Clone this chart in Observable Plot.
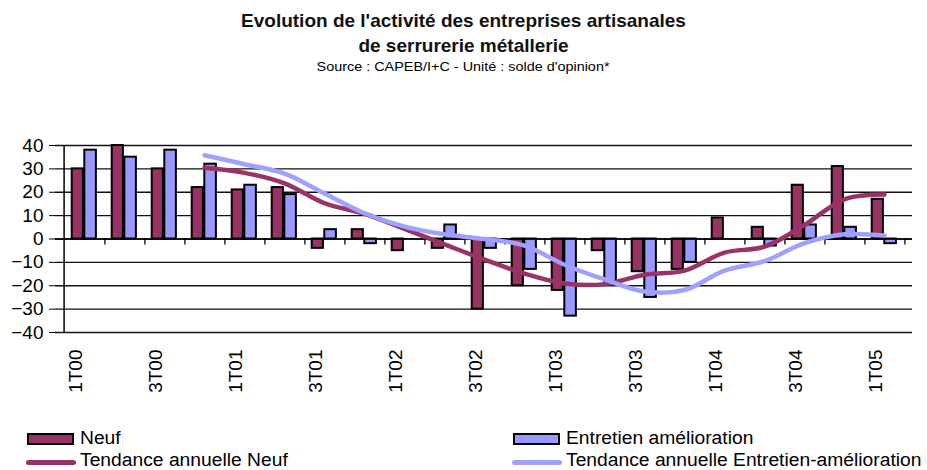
<!DOCTYPE html>
<html>
<head>
<meta charset="utf-8">
<script src="https://cdn.jsdelivr.net/npm/d3@7"></script>
<script src="https://cdn.jsdelivr.net/npm/@observablehq/plot@0.6"></script>
<style>
  html, body { margin: 0; padding: 0; background: #fff; }
  #wrap { position: relative; width: 927px; height: 470px; font-family: "Liberation Sans", Arial, sans-serif; color: #000; overflow: hidden; }
  .t1, .t2 { position: absolute; left: 0; width: 927px; text-align: center; font-weight: bold; font-size: 19px; color: #111; }
  .src { position: absolute; left: 0; width: 927px; text-align: center; font-size: 12px; }
  .src span { display: inline-block; transform: scaleX(1.2); }
  .leg { position: absolute; font-size: 18px; white-space: nowrap; height: 20px; }
  .leg .tx { position: absolute; top: 0; transform: scaleX(1.07); transform-origin: left center; }
  .sw { position: absolute; top: 5px; width: 43px; height: 8px; border: 2px solid #000; }
  .ln { position: absolute; top: 10px; width: 50px; height: 5px; border-radius: 3px; }
  #chart { position: absolute; left: 0; top: 0; }
</style>
</head>
<body>
<div id="wrap">
  <div id="chart"></div>
  <div class="t1" style="top:10px">Evolution de l'activité des entreprises artisanales</div>
  <div class="t2" style="top:35px">de serrurerie métallerie</div>
  <div class="src" style="top:60px"><span>Source : CAPEB/I+C - Unité : solde d'opinion*</span></div>
  <div class="leg" style="left:0; top:428px; width:400px"><span class="sw" style="left:27px; background:#993366"></span><span class="tx" style="left:80px">Neuf</span></div>
  <div class="leg" style="left:0; top:450px; width:400px"><span class="ln" style="left:26px; background:#993366"></span><span class="tx" style="left:80px">Tendance annuelle Neuf</span></div>
  <div class="leg" style="left:500px; top:428px; width:427px"><span class="sw" style="left:13px; background:#9999ff"></span><span class="tx" style="left:66px">Entretien amélioration</span></div>
  <div class="leg" style="left:500px; top:450px; width:427px"><span class="ln" style="left:12px; background:#a0a0ff"></span><span class="tx" style="left:66px">Tendance annuelle Entretien-amélioration</span></div>
</div>
<script>
// Quarters (1T00 .. 1T05)
const quarters = ["1T00","2T00","3T00","4T00","1T01","2T01","3T01","4T01","1T02","2T02","3T02","4T02","1T03","2T03","3T03","4T03","1T04","2T04","3T04","4T04","1T05"];
const tickLabels = ["1T00","3T00","1T01","3T01","1T02","3T02","1T03","3T03","1T04","3T04","1T05"];
// Bars: Neuf and Entretien amélioration (solde d'opinion)
const neuf =      [30, 40, 30, 22, 21, 22, -4,  4, -5, -4, -30, -20, -22,  -5, -14, -13,  9,  5, 23, 31, 17];
const entretien = [38, 35, 38, 32, 23, 19,  4, -2,  0,  6,  -4, -13, -33, -19, -25, -10,  0, -3,  6,  5, -2];
// Annual trend lines (start at 4T00)
const trendNeuf =      [null, null, null, 30.5, 28.3, 23.8, 15.3, 10.8, 4.3, -2.3, -8.8, -14.8, -19, -19.3, -15.3, -13.5, -5.8, -3.3, 6, 17, 19];
const trendEntretien = [null, null, null, 35.8, 32, 28, 19.5, 11, 5.3, 2, 0, -2.8, -11, -17.3, -22.5, -21.8, -13.5, -9.5, -1.8, 2, 1.5];
const yTicks = [-40, -30, -20, -10, 0, 10, 20, 30, 40];

const barsN = quarters.map((q, i) => ({q, v: neuf[i]}));
const barsE = quarters.map((q, i) => ({q, v: entretien[i]}));
const lineN = quarters.map((q, i) => ({q, v: trendNeuf[i]})).filter(d => d.v != null);
const lineE = quarters.map((q, i) => ({q, v: trendEntretien[i]})).filter(d => d.v != null);

const W = 927, H = 470, mL = 55, mR = 15;
const bw = (W - mL - mR) / quarters.length;

const chart = Plot.plot({
  width: W, height: H,
  marginLeft: mL, marginRight: mR, marginTop: 145, marginBottom: 138,
  style: {fontFamily: "'Liberation Sans', Arial, sans-serif", color: "#000", background: "transparent"},
  x: {type: "band", domain: quarters, padding: 0, axis: null, label: null},
  y: {domain: [-40, 40], axis: null, label: null},
  marks: [
    Plot.ruleY(yTicks, {stroke: "#111", strokeWidth: 1.3}),
    Plot.ruleX([quarters[0]], {y1: -40, y2: 40, dx: -bw / 2, stroke: "#000", strokeWidth: 1.5}),
    Plot.ruleX(quarters, {y1: 0, y2: -2.6, dx: bw / 2, stroke: "#000", strokeWidth: 1.3}),
    Plot.axisY({ticks: yTicks, tickSize: 6, tickPadding: 6, fontSize: 19, anchor: "left", label: null}),
    Plot.barY(barsN, {x: "q", y1: 0, y2: "v", fill: "#993366", stroke: "#000", strokeWidth: 2, insetLeft: 7.7, insetRight: bw - 19.7}),
    Plot.barY(barsE, {x: "q", y1: 0, y2: "v", fill: "#9999ff", stroke: "#000", strokeWidth: 2, insetLeft: 20.3, insetRight: bw - 32.7}),
    Plot.ruleY([0], {stroke: "#000", strokeWidth: 1.3}),
    Plot.line(lineN, {x: "q", y: "v", stroke: "#993366", strokeWidth: 4.5, curve: "catmull-rom"}),
    Plot.line(lineE, {x: "q", y: "v", stroke: "#a0a0ff", strokeWidth: 4.5, curve: "catmull-rom"}),
    Plot.axisX({ticks: tickLabels, tickSize: 0, tickPadding: 17, tickRotate: -90, fontSize: 19, anchor: "bottom", dx: -9, label: null})
  ]
});
document.getElementById("chart").appendChild(chart);
</script>
</body>
</html>
